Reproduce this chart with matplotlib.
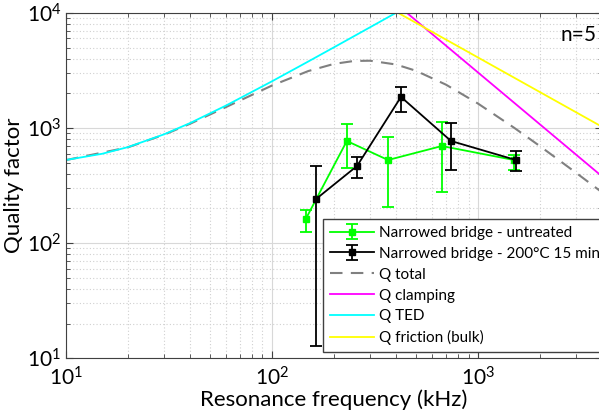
import matplotlib
matplotlib.use("Agg")
import matplotlib.pyplot as plt

plt.rcParams['font.family'] = ['Lato', 'DejaVu Sans']
plt.rcParams['mathtext.fontset'] = 'custom'
plt.rcParams['mathtext.rm'] = 'Lato'
plt.rcParams['mathtext.it'] = 'Lato:italic'
plt.rcParams['mathtext.bf'] = 'Lato:bold'

# measured resonators (frequency in kHz, Q with lower/upper error bounds)
f_untreated = [146, 231, 366, 668, 1496]
q_untreated = [162, 771, 527, 697, 527]
q_untreated_lo = [125, 449, 206, 277, 431]
q_untreated_hi = [194, 1083, 836, 1127, 582]

f_annealed = [164, 259, 423, 740, 1528]
q_annealed = [242, 468, 1862, 771, 527]
q_annealed_lo = [12.7, 367, 1377, 431, 423]
q_annealed_hi = [468, 560, 2274, 1104, 631]

# loss model curves
f_ted = [10, 15, 20, 30, 40, 60, 100, 150, 200, 300, 400]
q_ted = [527, 597, 682, 882, 1102, 1570, 2543, 3779, 5021, 7514, 10011]

f_clamp = [452, 4000]
q_clamp = [10000, 380]

f_fric = [410, 4000]
q_fric = [10000, 1025]

f_total = [10, 20, 30, 40, 60, 100, 150, 200, 250, 300, 400, 500, 700,
           1000, 1500, 2000, 3000, 4000]
q_total = [526, 679, 875, 1087, 1523, 2337, 3122, 3605, 3821, 3841, 3562,
           3143, 2378, 1631, 1003, 695, 407, 276]

fig = plt.figure(figsize=(5.99, 4.16), dpi=100)
ax = fig.add_axes([0.110, 0.139, 0.895, 0.830])

def err(q, lo, hi):
    return [[a - b for a, b in zip(q, lo)], [b - a for a, b in zip(q, hi)]]

h1 = ax.errorbar(f_untreated, q_untreated, yerr=err(q_untreated, q_untreated_lo, q_untreated_hi),
                 color='#00ff00', marker='s', ms=4, lw=1.3, elinewidth=1.3, capsize=4.5,
                 capthick=1.3, label='Narrowed bridge - untreated', zorder=4)
h2 = ax.errorbar(f_annealed, q_annealed, yerr=err(q_annealed, q_annealed_lo, q_annealed_hi),
                 color='black', marker='s', ms=4, lw=1.3, elinewidth=1.3, capsize=4.5,
                 capthick=1.3, label='Narrowed bridge - 200°C 15 min', zorder=5)
h3, = ax.plot(f_total, q_total, color='#808080', ls=(0, (6, 4)), lw=1.5, label='Q total')
h4, = ax.plot(f_clamp, q_clamp, color='#ff00ff', lw=1.3, label='Q clamping')
h5, = ax.plot(f_ted, q_ted, color='#00ffff', lw=1.3, label='Q TED')
h6, = ax.plot(f_fric, q_fric, color='#ffff00', lw=1.3, label='Q friction (bulk)')

ax.set_xscale('log')
ax.set_yscale('log')
ax.set_xlim(10, 4000)
ax.set_ylim(10, 10000)

ax.grid(True, which='major', color='#d8d8d8', lw=0.8, ls='-')
ax.grid(True, which='minor', color='#d0d0d0', lw=0.8, ls=(0, (1, 2)))
ax.set_axisbelow(True)
ax.tick_params(which='both', direction='in', top=True, right=True, colors='#404040',
               labelcolor='black', labelsize=15)
ax.tick_params(which='major', length=5)
ax.tick_params(which='minor', length=3)
ax.tick_params(axis='x', which='major', pad=6)
for s in ax.spines.values():
    s.set_color('#404040')

ax.set_xlabel('Resonance frequency (kHz)', fontsize=16, labelpad=0)
ax.set_ylabel('Quality factor', fontsize=16, labelpad=2)
ax.text(0.99, 0.965, 'n=5', transform=ax.transAxes, fontsize=15, ha='right', va='top')

leg = ax.legend([h1, h2, h3, h4, h5, h6],
                [h.get_label() for h in (h1, h2, h3, h4, h5, h6)],
                loc='upper left', bbox_to_anchor=(0.4795, 0.403), fontsize=11,
                frameon=True, fancybox=False, framealpha=1, edgecolor='#404040',
                handlelength=2.9, handletextpad=0.3, borderpad=0.45, labelspacing=0.45,
                borderaxespad=0)
leg.get_frame().set_linewidth(1.0)
leg.set_zorder(10)

fig.savefig('out.png', dpi=100)
